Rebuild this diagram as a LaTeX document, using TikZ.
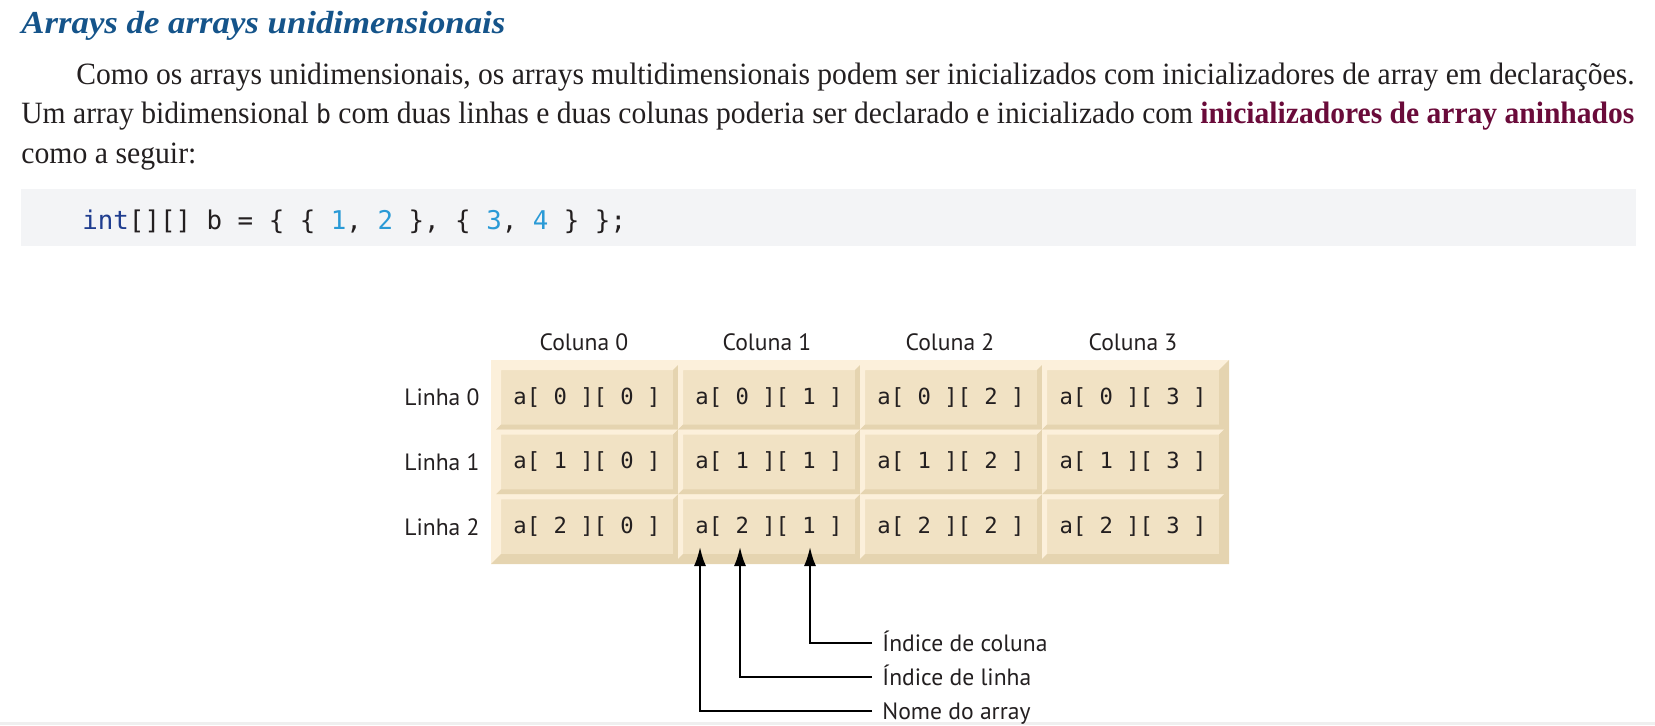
\documentclass[tikz,border=0pt]{standalone}
\usepackage{fontspec}
\setmainfont{Liberation Serif}
\newfontfamily\lblfont{PT Sans}
\newfontfamily\monofont{DejaVu Sans Mono}
\usetikzlibrary{arrows.meta}
\definecolor{face}{HTML}{F1E2C4}
\definecolor{hi}{HTML}{FCF0DB}
\definecolor{lo}{HTML}{E5D4B0}
\definecolor{ink}{HTML}{231F20}
\definecolor{titleblue}{HTML}{15548A}
\definecolor{termred}{HTML}{6A0B3A}
\definecolor{codebg}{HTML}{F3F4F6}
\definecolor{kwblue}{HTML}{1F3D8F}
\definecolor{numblue}{HTML}{2A9AD6}
\definecolor{bandgray}{HTML}{EFEFEF}
\tikzset{
  bevel/.style={rectangle, inner sep=0pt, outer sep=0pt, fill=face,
    path picture={
      \fill[hi] (path picture bounding box.north west) -- (path picture bounding box.north east)
        -- ([shift={(-#1,-#1)}]path picture bounding box.north east)
        -- ([shift={(#1,-#1)}]path picture bounding box.north west)
        -- ([shift={(#1,#1)}]path picture bounding box.south west)
        -- (path picture bounding box.south west) -- cycle;
      \fill[lo] (path picture bounding box.north east) -- (path picture bounding box.south east)
        -- (path picture bounding box.south west)
        -- ([shift={(#1,#1)}]path picture bounding box.south west)
        -- ([shift={(-#1,#1)}]path picture bounding box.south east)
        -- ([shift={(-#1,-#1)}]path picture bounding box.north east) -- cycle;
    }},
  cell/.style={bevel=2.5pt, minimum width=91pt, minimum height=32.333pt,
    font=\monofont\fontsize{11.1}{13}\selectfont, text=ink},
  frame/.style={bevel=2.5pt, minimum width=369pt, minimum height=102pt},
  lbl/.style={font=\lblfont\fontsize{11.8}{14}\selectfont, text=ink, inner sep=0pt,
    text height=8.5pt, text depth=0pt},
  callout/.style={lbl, anchor=west, inner xsep=5pt},
  arr/.style={draw=black, line width=1pt, -{Latex[length=9.5pt,width=6pt]}},
  para/.style={anchor=base west, inner sep=0pt, text=ink},
}
\begin{document}
\begin{tikzpicture}[x=0.5pt,y=-0.5pt]
\useasboundingbox (0,0) rectangle (1655,725);

% title and paragraph
\node[para, text=titleblue] (title) at (21,33)
  {\resizebox{242pt}{\height}{\fontsize{16}{19}\selectfont\bfseries\itshape Arrays de arrays unidimensionais}};
\node[para] (l1) at (76,84)
  {\resizebox{779pt}{\height}{\fontsize{15.5}{18}\selectfont Como os arrays unidimensionais, os arrays multidimensionais podem ser inicializados com inicializadores de array em declarações.}};
\node[para] (l2) at (21,123)
  {\resizebox{806.5pt}{\height}{\fontsize{15.5}{18}\selectfont Um array bidimensional {\monofont\fontsize{13}{15}\selectfont b} com duas linhas e duas colunas poderia ser declarado e inicializado com \textcolor{termred}{\bfseries inicializadores de array aninhados}}};
\node[para] (l3) at (21,163)
  {\resizebox{87.5pt}{\height}{\fontsize{15.5}{18}\selectfont como a seguir:}};

% code box
\fill[codebg] (21,189) rectangle (1636,246);
\node[anchor=west, inner sep=0pt, text=ink] (code) at (82,222)
  {\monofont\fontsize{12.9}{15}\selectfont\textcolor{kwblue}{int}[][] b = \{ \{ \textcolor{numblue}{1}, \textcolor{numblue}{2} \}, \{ \textcolor{numblue}{3}, \textcolor{numblue}{4} \} \};};

% bottom band
\fill[bandgray] (0,722) rectangle (1655,725);

% array frame and cells
\node[frame] (frm) at (860,462) {};
\foreach \r in {0,1,2}{
  \foreach \c in {0,1,2,3}{
    \node[cell] (c\r\c) at ({587+182*\c},{397.333+64.667*\r}) {a[ \r\ ][ \c\ ]};
  }
}

% column labels
\node[lbl] (k0) at (584,341.5) {Coluna 0};
\node[lbl] (k1) at (767,341.5) {Coluna 1};
\node[lbl] (k2) at (950,341.5) {Coluna 2};
\node[lbl] (k3) at (1133,341.5) {Coluna 3};

% row labels
\node[lbl, anchor=east] (r0) at (480,397.3) {Linha 0};
\node[lbl, anchor=east] (r1) at (480,462) {Linha 1};
\node[lbl, anchor=east] (r2) at (480,526.7) {Linha 2};

% callouts
\node[callout] (ic) at (872,643) {Índice de coluna};
\node[callout] (il) at (872,677) {Índice de linha};
\node[callout] (nm) at (872,711) {Nome do array};
\coordinate (ta) at (700,547);
\coordinate (tb) at (740,547);
\coordinate (tc) at (810,547);
\draw[arr] (ic.west) -| (tc);
\draw[arr] (il.west) -| (tb);
\draw[arr] (nm.west) -| (ta);
\end{tikzpicture}
\end{document}
